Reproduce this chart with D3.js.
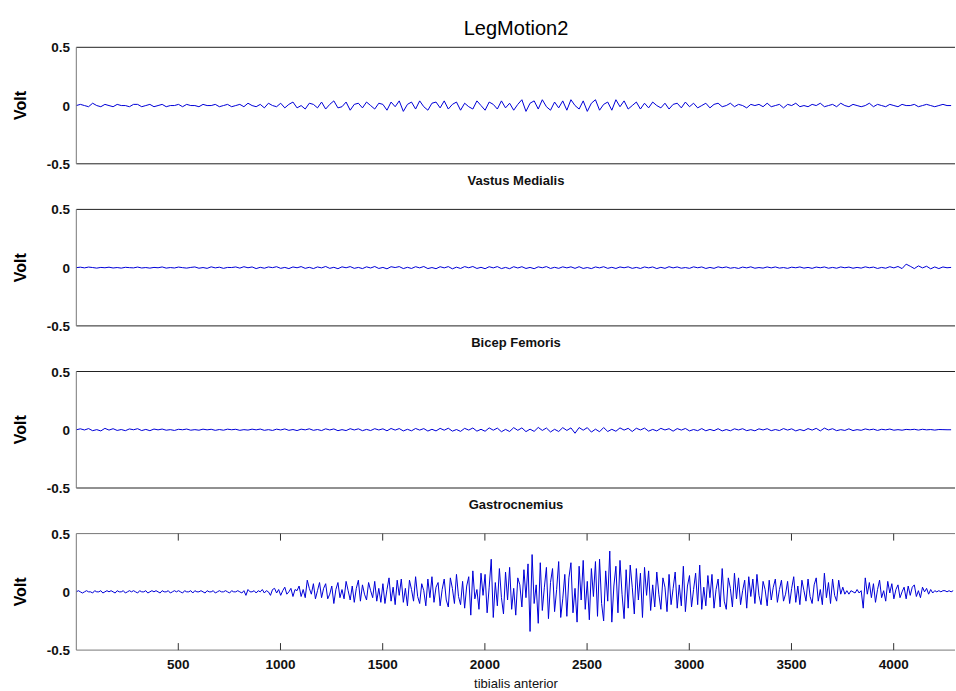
<!DOCTYPE html>
<html>
<head>
<meta charset="utf-8">
<script src="https://cdn.jsdelivr.net/npm/d3@7"></script>
<style>
  body { margin:0; background:#fff; }
  text { font-family: "Liberation Sans", Arial, sans-serif; }
</style>
</head>
<body>
<svg id="viz" width="956" height="691"></svg>
<script>
// sample spacing of the hand-read values
const STEP_TA = 10
const STEP = 20
const X_MAX = 4300

const titles = ['Vastus Medialis', 'Bicep Femoris', 'Gastrocnemius', 'tibialis anterior']
const yTicks = [-0.5, 0, 0.5]
const xTicks = [500, 1000, 1500, 2000, 2500, 3000, 3500, 4000]

// Vastus Medialis, one value every 20 samples
const vastus = [
 0.00,0.01,0.00,-0.01,0.02,0.00,-0.01,0.01,0.00,-0.01,
 0.01,0.00,0.00,-0.01,0.01,0.01,-0.01,0.00,0.01,-0.01,
 0.00,0.01,-0.01,0.00,0.00,0.01,-0.01,0.01,0.00,0.00,
 -0.01,0.01,0.00,0.00,0.01,-0.01,0.00,0.01,-0.01,0.00,
 0.01,-0.01,0.02,0.00,-0.01,0.01,-0.02,0.02,0.00,-0.01,
 0.02,-0.02,0.01,0.03,-0.02,0.00,-0.03,0.02,0.01,-0.02,
 0.03,-0.03,0.01,0.04,-0.02,-0.01,0.03,-0.04,0.01,0.02,
 -0.02,0.03,0.00,-0.03,0.02,0.01,-0.04,0.03,-0.01,0.04,
 -0.05,0.01,0.03,-0.03,0.04,-0.01,-0.04,0.02,0.03,-0.02,
 0.04,-0.03,0.01,0.03,-0.04,0.02,-0.01,-0.03,0.04,0.00,
 -0.04,0.03,0.01,-0.03,0.04,-0.02,0.02,-0.04,0.01,0.05,
 -0.05,0.02,0.04,-0.03,0.05,-0.01,-0.04,0.03,-0.02,0.04,
 -0.04,0.05,0.00,-0.03,0.04,-0.05,0.02,0.05,-0.04,0.01,
 0.03,-0.04,0.05,-0.01,0.04,-0.03,0.00,0.03,-0.03,0.02,
 -0.02,0.03,0.00,-0.02,0.02,-0.03,0.01,0.02,-0.02,0.03,
 -0.01,0.02,-0.02,0.00,0.02,-0.02,0.01,0.02,-0.01,0.00,
 0.02,-0.01,0.01,0.00,-0.02,0.01,0.00,0.01,-0.01,0.02,
 -0.01,0.00,0.01,-0.02,0.01,0.00,0.02,-0.01,0.00,-0.01,
 0.01,0.00,0.02,-0.01,0.00,0.01,-0.01,0.02,0.00,-0.01,
 0.01,0.00,-0.01,0.00,0.02,-0.01,0.01,0.00,-0.01,0.01,
 0.00,-0.01,0.01,0.00,0.00,0.01,-0.01,0.00,0.01,0.00,
 -0.01,0.00,0.01,0.00,0.00
]

// Bicep Femoris, one value every 20 samples
const bicep = [
 0.000,0.004,-0.002,0.005,0.001,-0.004,0.002,-0.001,0.004,-0.003,
 0.001,-0.004,0.003,0.000,-0.002,0.005,-0.003,0.001,-0.004,0.002,
 -0.001,0.006,-0.004,0.001,-0.003,0.005,0.000,-0.004,0.002,0.006,
 -0.005,0.001,-0.006,0.007,-0.002,0.004,-0.006,0.002,0.001,0.006,
 -0.004,0.008,-0.001,0.006,-0.008,0.003,-0.005,0.006,0.000,0.008,
 -0.006,0.002,-0.008,0.006,-0.001,0.009,-0.006,0.003,-0.008,0.006,
 -0.002,0.010,-0.006,0.003,-0.009,0.007,-0.001,0.009,-0.006,0.002,
 -0.008,0.007,-0.003,0.010,-0.007,0.002,-0.010,0.008,0.001,0.009,
 -0.008,0.003,-0.007,0.008,-0.002,0.010,-0.008,0.001,-0.009,0.008,
 -0.002,0.009,-0.010,0.004,-0.007,0.009,-0.001,0.010,-0.007,0.003,
 -0.009,0.008,-0.002,0.009,-0.008,0.002,-0.009,0.008,-0.003,0.008,
 -0.007,0.002,-0.009,0.007,-0.001,0.009,-0.007,0.003,-0.006,0.007,
 -0.002,0.007,-0.006,0.008,-0.007,0.001,-0.008,0.006,-0.002,0.008,
 -0.006,0.003,-0.007,0.006,-0.001,0.007,-0.006,0.002,-0.007,0.006,
 -0.002,0.006,-0.008,0.003,-0.006,0.008,-0.002,0.006,-0.005,0.001,
 -0.006,0.007,-0.001,0.006,-0.007,0.002,-0.006,0.007,-0.001,0.006,
 -0.005,0.001,-0.007,0.005,-0.002,0.007,-0.005,0.001,-0.004,0.006,
 -0.002,0.006,-0.004,0.001,-0.006,0.004,-0.001,0.006,-0.004,0.002,
 -0.006,0.005,-0.001,0.006,-0.005,0.002,-0.005,0.006,-0.001,0.005,
 -0.005,0.002,-0.004,0.007,-0.001,0.005,-0.007,0.002,-0.005,0.008,
 -0.002,0.010,-0.008,0.030,0.012,-0.008,0.015,-0.002,0.012,-0.010,
 0.006,-0.008,0.006,-0.001,0.002
]

// Gastrocnemius, one value every 20 samples
const gastro = [
 0.000,0.008,-0.002,0.010,-0.008,0.001,-0.010,0.012,-0.003,0.009,
 -0.006,0.002,-0.008,0.007,0.000,0.009,-0.007,0.003,-0.008,0.006,
 -0.001,0.006,-0.004,0.001,-0.006,0.004,0.000,0.006,-0.004,0.001,
 -0.004,0.005,-0.001,0.004,-0.005,0.002,-0.004,0.005,0.000,0.004,
 -0.005,0.001,-0.003,0.005,-0.001,0.006,-0.005,0.001,-0.006,0.005,
 -0.002,0.007,-0.005,0.002,-0.007,0.005,-0.001,0.008,-0.005,0.002,
 -0.007,0.008,-0.002,0.007,-0.008,0.001,-0.007,0.009,-0.002,0.008,
 -0.008,0.003,-0.007,0.009,-0.002,0.008,-0.009,0.011,-0.003,0.010,
 -0.010,0.004,-0.009,0.011,-0.003,0.010,-0.011,0.004,-0.010,0.012,
 -0.004,0.013,-0.012,0.002,-0.014,0.012,-0.003,0.015,-0.012,0.004,
 -0.013,0.016,-0.004,0.014,-0.017,0.003,-0.015,0.018,-0.005,0.016,
 -0.016,0.005,-0.014,0.020,-0.006,0.015,-0.019,0.004,-0.015,0.018,
 -0.006,0.016,-0.030,0.019,-0.004,0.018,-0.020,0.005,-0.017,0.019,
 -0.015,0.004,-0.013,0.016,-0.003,0.012,-0.015,0.013,-0.002,0.014,
 -0.012,0.003,-0.010,0.012,-0.002,0.009,-0.012,0.010,-0.003,0.011,
 -0.010,0.002,-0.008,0.010,-0.009,0.003,-0.008,0.009,-0.010,0.002,
 -0.009,0.008,-0.002,0.009,-0.008,0.001,-0.009,0.008,-0.002,0.009,
 -0.008,0.002,-0.007,0.010,-0.003,0.008,-0.010,0.002,-0.008,0.010,
 -0.003,0.012,-0.010,0.014,-0.002,0.009,-0.008,0.001,-0.006,0.008,
 -0.007,0.001,-0.005,0.007,-0.001,0.005,-0.006,0.004,-0.001,0.006,
 -0.004,0.001,-0.004,0.003,0.000,0.004,-0.003,0.004,-0.001,0.002,
 -0.003,0.002,0.001,0.000,0.000
]

// tibialis anterior, one value every 10 samples
const tibialis = [
 0.00,0.01,0.00,-0.01,0.00,0.01,0.00,0.00,-0.01,0.01,
 0.00,0.00,0.01,-0.01,0.00,0.01,0.00,0.01,0.00,-0.01,
 0.01,0.00,0.00,0.01,-0.01,0.00,0.01,0.00,0.01,0.00,
 -0.01,0.01,0.00,0.00,0.01,-0.01,0.00,0.01,0.00,0.01,
 0.00,-0.01,0.01,0.00,0.00,0.01,-0.01,0.00,0.01,0.00,
 0.01,0.00,-0.01,0.01,0.00,0.00,0.01,-0.01,0.01,0.00,
 0.00,0.01,0.00,-0.01,0.01,0.00,0.00,0.01,-0.01,0.00,
 0.01,0.00,0.00,0.01,0.00,-0.01,0.01,0.00,0.00,0.01,
 0.00,-0.01,0.01,-0.03,0.02,0.00,0.00,0.01,-0.01,0.01,
 0.00,0.02,-0.01,0.01,0.00,-0.03,0.02,0.03,-0.01,0.02,
 -0.03,0.01,0.04,-0.02,0.00,0.03,-0.04,0.02,0.01,0.05,
 -0.04,0.02,-0.05,0.10,0.03,-0.02,0.07,-0.06,0.01,0.08,
 -0.05,0.03,0.07,-0.06,-0.02,0.05,-0.10,0.02,0.08,-0.05,
 0.02,-0.06,0.09,0.01,-0.07,0.05,-0.09,0.03,0.10,-0.08,
 0.06,-0.02,-0.07,0.08,0.01,-0.05,0.09,-0.08,0.03,-0.09,
 0.07,-0.10,0.02,0.12,-0.08,0.04,-0.11,0.10,-0.03,0.11,
 -0.09,0.03,-0.12,0.10,0.02,-0.08,0.13,-0.04,-0.10,0.07,
 0.01,-0.12,0.11,-0.05,0.13,-0.09,0.04,0.08,-0.12,0.02,
 0.11,-0.07,-0.13,0.12,0.03,-0.10,0.15,-0.04,-0.11,0.09,
 -0.14,0.05,0.13,-0.20,0.18,-0.06,0.02,-0.15,0.16,-0.03,
 0.15,-0.18,0.04,0.28,-0.22,0.08,-0.12,0.20,-0.05,-0.19,
 0.17,-0.07,0.21,-0.15,0.03,-0.20,0.12,0.06,-0.13,0.19,
 -0.05,0.24,-0.34,0.32,-0.10,0.06,-0.27,0.25,-0.16,0.04,
 0.21,-0.23,0.08,0.20,-0.17,0.02,0.26,-0.22,-0.06,0.15,
 -0.21,0.12,0.25,-0.18,0.03,-0.26,0.22,-0.07,0.27,-0.15,
 0.09,-0.24,0.20,-0.04,0.26,-0.21,0.28,-0.10,-0.25,0.18,
 -0.08,0.35,-0.26,0.05,0.22,-0.18,0.27,-0.02,-0.23,0.19,
 -0.14,0.23,0.04,-0.19,0.20,-0.07,0.16,-0.22,0.21,-0.03,
 0.18,-0.16,0.06,-0.13,0.17,-0.02,-0.15,0.12,0.04,-0.17,
 0.15,-0.11,0.03,0.17,-0.14,0.06,-0.12,0.22,-0.17,0.05,
 0.14,-0.13,0.02,0.16,-0.11,0.23,-0.15,0.04,-0.12,0.14,
 -0.05,0.15,-0.14,0.02,0.11,-0.13,0.20,-0.08,-0.15,0.12,
 0.03,-0.13,0.16,-0.06,0.12,-0.11,0.01,0.10,-0.14,0.13,
 -0.04,0.11,-0.10,0.15,-0.03,-0.11,0.09,0.02,-0.12,0.10,
 -0.07,0.04,0.11,-0.09,0.02,0.10,-0.08,-0.02,0.09,-0.10,
 0.03,0.13,-0.09,0.05,-0.11,0.10,0.01,-0.08,0.11,-0.04,
 -0.10,0.06,0.12,-0.08,0.02,-0.11,0.16,-0.05,0.08,-0.10,
 0.11,-0.03,-0.08,0.10,-0.02,0.04,-0.02,0.01,-0.02,0.01,
 0.00,-0.01,0.02,-0.01,0.01,-0.14,0.12,-0.02,0.08,-0.05,
 0.07,-0.09,0.02,0.10,-0.05,0.01,-0.08,0.09,-0.01,0.07,
 -0.06,0.02,0.06,-0.05,0.00,0.04,-0.06,0.05,-0.03,0.04,
 0.06,-0.04,0.01,-0.05,0.04,0.00,0.03,-0.02,0.02,-0.01,
 0.01,0.00,0.01,0.00,0.01,0.01,0.00,0.01,0.00,0.01
]

const series = [
  { values: vastus, step: STEP },
  { values: bicep, step: STEP },
  { values: gastro, step: STEP },
  { values: tibialis, step: STEP_TA }
]

const svg = d3.select('svg#viz')
const LEFT = 76.3, RIGHT = 955, TOP = 47.3, PANEL_H = 116.5, GAP = 162.1

const x = d3.scaleLinear().domain([1, X_MAX]).range([LEFT, RIGHT])

svg.append('text')
  .attr('x', 516).attr('y', 35)
  .attr('text-anchor', 'middle')
  .attr('font-size', 20)
  .text('LegMotion2')

series.forEach((s, i) => {
  const top = TOP + i * GAP
  const y = d3.scaleLinear().domain([-0.5, 0.5]).range([top + PANEL_H, top])
  const g = svg.append('g')
  const last = i == series.length - 1

  // signal
  const line = d3.line()
    .x((d, k) => x(1 + k * s.step))
    .y(d => y(d))
  g.append('path')
    .datum(s.values)
    .attr('d', line)
    .attr('fill', 'none')
    .attr('stroke', '#0000d8')
    .attr('stroke-width', 1)

  // box
  g.append('line').attr('x1', LEFT).attr('x2', RIGHT).attr('y1', top).attr('y2', top)
    .attr('stroke', last ? '#777' : '#222')
  g.append('line').attr('x1', LEFT).attr('x2', RIGHT).attr('y1', top + PANEL_H).attr('y2', top + PANEL_H)
    .attr('stroke', last ? '#777' : '#222')
  g.append('line').attr('x1', LEFT).attr('x2', LEFT).attr('y1', top).attr('y2', top + PANEL_H)
    .attr('stroke', '#777')

  // y tick labels
  g.selectAll('text.yt')
    .data(yTicks)
    .join('text')
    .attr('class', 'yt')
    .attr('x', 70)
    .attr('y', d => y(d) + 5)
    .attr('text-anchor', 'end')
    .attr('font-size', 13.5)
    .attr('font-weight', 'bold')
    .attr('fill', '#111')
    .text(d => d == 0 ? '0' : d)

  g.append('text')
    .attr('transform', `translate(26, ${top + PANEL_H / 2}) rotate(-90)`)
    .attr('text-anchor', 'middle')
    .attr('font-size', 16)
    .attr('font-weight', 'bold')
    .text('Volt')

  if (last) {
    g.selectAll('line.xt')
      .data(xTicks)
      .join('line')
      .attr('class', 'xt')
      .attr('x1', d => x(d)).attr('x2', d => x(d))
      .attr('y1', top).attr('y2', top + 7)
      .attr('stroke', '#333')
    g.selectAll('line.xb')
      .data(xTicks)
      .join('line')
      .attr('class', 'xb')
      .attr('x1', d => x(d)).attr('x2', d => x(d))
      .attr('y1', top + PANEL_H).attr('y2', top + PANEL_H - 7)
      .attr('stroke', '#333')
    g.selectAll('text.xt')
      .data(xTicks)
      .join('text')
      .attr('class', 'xt')
      .attr('x', d => x(d))
      .attr('y', top + PANEL_H + 19)
      .attr('text-anchor', 'middle')
      .attr('font-size', 13.5)
      .attr('font-weight', 'bold')
      .attr('fill', '#111')
      .text(d => d)
  }

  g.append('text')
    .attr('x', 516)
    .attr('y', last ? top + PANEL_H + 38 : top + PANEL_H + 21)
    .attr('text-anchor', 'middle')
    .attr('font-size', 13)
    .attr('font-weight', last ? 'normal' : 'bold')
    .attr('fill', '#111')
    .text(titles[i])
})
</script>
</body>
</html>
